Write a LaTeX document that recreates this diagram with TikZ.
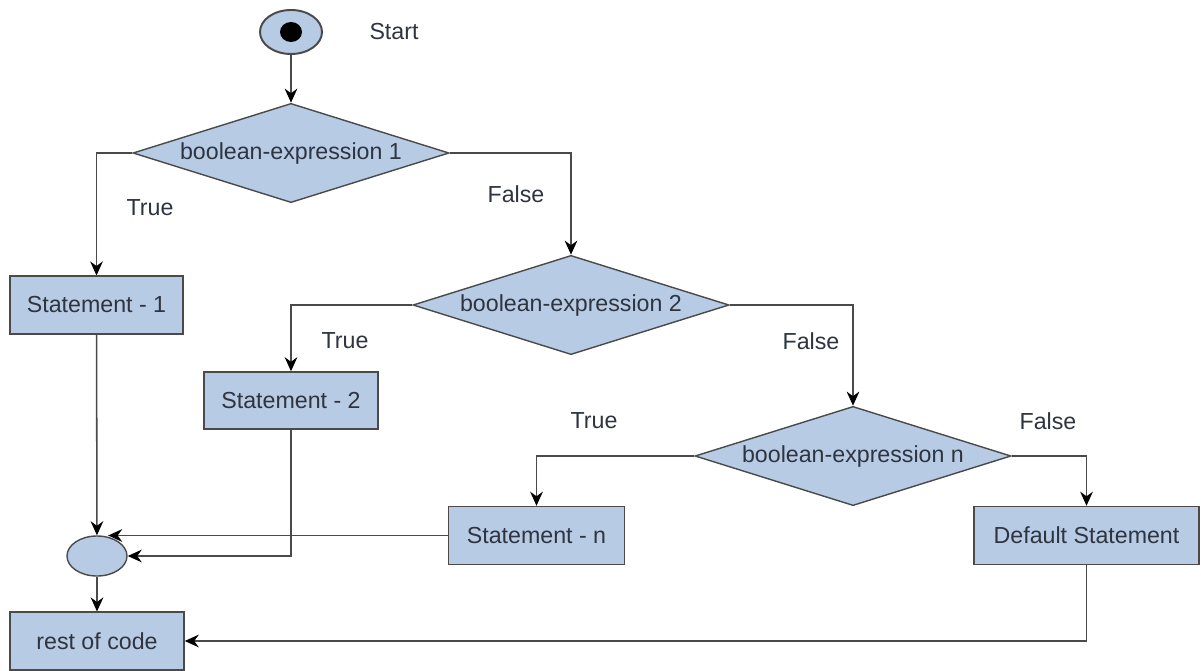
\documentclass[tikz,border=0pt]{standalone}
\usepackage{fontspec}
\setmainfont{Liberation Sans}
\usepackage{tikz}
\usetikzlibrary{arrows.meta,shapes.geometric,calc}
\definecolor{boxblue}{HTML}{B8CBE4}
\definecolor{linegray}{HTML}{4A4A4A}
\definecolor{textgray}{HTML}{2E3440}
\begin{document}
\begin{tikzpicture}[x=0.025cm,y=-0.025cm]
\tikzset{every node/.style={font=\fontsize{16.5}{20}\selectfont,text=textgray}}
\tikzset{box/.style={draw=linegray,fill=boxblue,rectangle,line width=1pt,
minimum width=4.35cm,minimum height=1.44cm,inner sep=0pt}}
\tikzset{decision/.style={draw=linegray,fill=boxblue,diamond,line width=1pt,
aspect=3.18,minimum width=7.9cm,minimum height=2.48cm,inner sep=0pt}}
\tikzset{merge/.style={draw=linegray,fill=boxblue,ellipse,line width=1pt,
minimum width=1.5cm,minimum height=1cm,inner sep=0pt}}
\tikzset{lbl/.style={inner sep=0pt}}
\tikzset{conn/.style={line width=1.1pt,draw=linegray,
-{Stealth[length=10pt,width=9pt,black]}}}
\useasboundingbox (0,0) rectangle (1201,670);
\node[merge,line width=1.4pt,minimum width=1.55cm,minimum height=1.1cm] (start) at (291,32) {};
\node[ellipse,fill=black,minimum width=0.55cm,minimum height=0.5cm,inner sep=0pt] (dot) at (start) {};
\node[lbl] (startlbl) at (394,32) {Start};
\node[decision] (d1) at (291,153) {boolean-expression 1};
\node[box,minimum width=4.325cm] (s1) at (96.5,305) {Statement - 1};
\node[decision] (d2) at (571,305) {boolean-expression 2};
\node[box,minimum height=1.425cm] (s2) at (291,400.5) {Statement - 2};
\node[decision] (dn) at (853,456) {boolean-expression n};
\node[box,minimum width=4.4cm,minimum height=1.45cm] (sn) at (536.5,535.5) {Statement - n};
\node[box,minimum width=5.625cm,minimum height=1.45cm] (sd) at (1086.5,535.5) {Default Statement};
\node[merge] (m) at (97,556) {};
\node[box,minimum width=4.35cm] (rest) at (97,641) {rest of code};
\node[lbl] (t1) at (150,208) {True};
\node[lbl] (f1) at (516,194) {False};
\node[lbl] (t2) at (345,341) {True};
\node[lbl] (f2) at (811,341) {False};
\node[lbl] (tn) at (594,421) {True};
\node[lbl] (fn) at (1048,421) {False};
\draw[conn] (start) -- (d1);
\draw[conn] (d1.west) -| (s1);
\draw[conn] (d1.east) -| (d2);
\draw[conn] (d2.west) -| (s2);
\draw[conn] (d2.east) -| (dn);
\draw[conn] (dn.west) -| (sn);
\draw[conn] (dn.east) -| (sd);
\draw[conn] (s1) -- (m);
\draw[conn] (sn.west) -- (sn.west -| m.60);
\draw[conn] (s2) |- (m);
\draw[conn] (m) -- (rest);
\draw[conn] (sd) |- (rest);
\end{tikzpicture}
\end{document}
